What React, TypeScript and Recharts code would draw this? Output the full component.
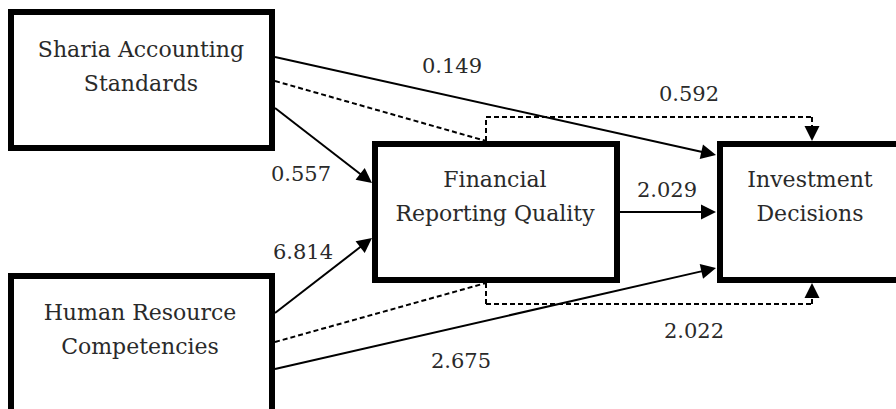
import React from 'react';
import { ScatterChart, XAxis, YAxis, Scatter, ReferenceArea, ReferenceLine } from 'recharts';

// ---- content ----
const constructNames: string[][] = [
  ['Sharia Accounting', 'Standards'],
  ['Human Resource', 'Competencies'],
  ['Financial', 'Reporting Quality'],
  ['Investment', 'Decisions'],
];
const pathCoefficients: string[] = ['0.149', '0.592', '0.557', '6.814', '2.029', '2.022', '2.675'];
const pathIsIndirect: boolean[] = [false, true, false, false, false, true, false];

// ---- layout (diagram units = pixels of the 896x409 canvas) ----
const boxLayout = [
  { x1: 11, x2: 272, y1: 12, y2: 148 },
  { x1: 11, x2: 272, y1: 276, y2: 440 },
  { x1: 375, x2: 617, y1: 144, y2: 280 },
  { x1: 720, x2: 920, y1: 144, y2: 280 },
];
const titleAnchors = [
  { x: 141, y: 57 },
  { x: 140, y: 320 },
  { x: 495, y: 187 },
  { x: 810, y: 187 },
];
const pathRoutes: { x: number; y: number }[][] = [
  [{ x: 275, y: 57 }, { x: 716, y: 155 }],
  [{ x: 275, y: 81 }, { x: 486, y: 141 }, { x: 486, y: 117 }, { x: 812, y: 117 }, { x: 812, y: 141 }],
  [{ x: 275, y: 108 }, { x: 372, y: 183 }],
  [{ x: 275, y: 313 }, { x: 372, y: 238 }],
  [{ x: 620, y: 212 }, { x: 716, y: 212 }],
  [{ x: 275, y: 342 }, { x: 486, y: 283 }, { x: 486, y: 304 }, { x: 812, y: 304 }, { x: 812, y: 283 }],
  [{ x: 275, y: 369 }, { x: 716, y: 268 }],
];
const labelAnchors = [
  { x: 452, y: 73 },
  { x: 689, y: 101 },
  { x: 301, y: 181 },
  { x: 303, y: 259 },
  { x: 667, y: 197 },
  { x: 694, y: 338 },
  { x: 461, y: 368 },
];

const FONT = 'DejaVu Serif';
const TEXT_COLOR = '#2a2a2a';

const titleData = constructNames.map((lines, i) => ({ x: titleAnchors[i].x, y: titleAnchors[i].y, lines }));
const labelData = pathCoefficients.map((t, i) => ({ x: labelAnchors[i].x, y: labelAnchors[i].y, t }));

const makeSegmentShape = (dashed: boolean, arrow: boolean) => (props: any) => {
  const { x1, y1, x2, y2 } = props;
  const dash = dashed ? '5 3' : undefined;
  if (!arrow) {
    return <line x1={x1} y1={y1} x2={x2} y2={y2} stroke="#000" strokeWidth={2} strokeDasharray={dash} />;
  }
  const dx = x2 - x1;
  const dy = y2 - y1;
  const len = Math.hypot(dx, dy) || 1;
  const ux = dx / len;
  const uy = dy / len;
  const L = 15;
  const W = 7.5;
  const bx = x2 - ux * L;
  const by = y2 - uy * L;
  const pts = `${x2},${y2} ${bx - uy * W},${by + ux * W} ${bx + uy * W},${by - ux * W}`;
  return (
    <g>
      <line x1={x1} y1={y1} x2={bx + ux} y2={by + uy} stroke="#000" strokeWidth={2} strokeDasharray={dash} />
      <polygon points={pts} fill="#000" />
    </g>
  );
};

const renderTitle = (props: any) => {
  const { cx, cy, payload } = props;
  return (
    <text x={cx} y={cy} textAnchor="middle" fontFamily={FONT} fontSize={22} fill={TEXT_COLOR}>
      {payload.lines.map((l: string, i: number) => (
        <tspan key={i} x={cx} dy={i === 0 ? 0 : 34}>{l}</tspan>
      ))}
    </text>
  );
};

const renderLabel = (props: any) => {
  const { cx, cy, payload } = props;
  return (
    <text x={cx} y={cy} textAnchor="middle" fontFamily={FONT} fontSize={21} fill={TEXT_COLOR}>
      {payload.t}
    </text>
  );
};

export default function App() {
  const segments: React.ReactNode[] = [];
  pathRoutes.forEach((route, pi) => {
    for (let s = 0; s < route.length - 1; s++) {
      const isLast = s === route.length - 2;
      segments.push(
        <ReferenceLine
          key={`p${pi}s${s}`}
          segment={[route[s], route[s + 1]]}
          ifOverflow="visible"
          stroke="#000"
          shape={makeSegmentShape(pathIsIndirect[pi], isLast)}
        />
      );
    }
  });

  return (
    <div style={{ position: 'absolute', left: 0, top: 0, width: 896, height: 409, background: '#fff' }}>
      <ScatterChart width={896} height={409} margin={{ top: 0, right: 0, bottom: 0, left: 0 }}>
        <XAxis type="number" dataKey="x" domain={[0, 896]} allowDataOverflow hide />
        <YAxis type="number" dataKey="y" domain={[0, 409]} allowDataOverflow reversed hide />
        {boxLayout.map((b, i) => (
          <ReferenceArea
            key={`b${i}`}
            x1={b.x1}
            x2={b.x2}
            y1={b.y1}
            y2={b.y2}
            fill="#fff"
            fillOpacity={1}
            stroke="#000"
            strokeWidth={6}
            ifOverflow="hidden"
          />
        ))}
        {segments}
        <Scatter data={titleData} shape={renderTitle} isAnimationActive={false} legendType="none" />
        <Scatter data={labelData} shape={renderLabel} isAnimationActive={false} legendType="none" />
      </ScatterChart>
    </div>
  );
}
